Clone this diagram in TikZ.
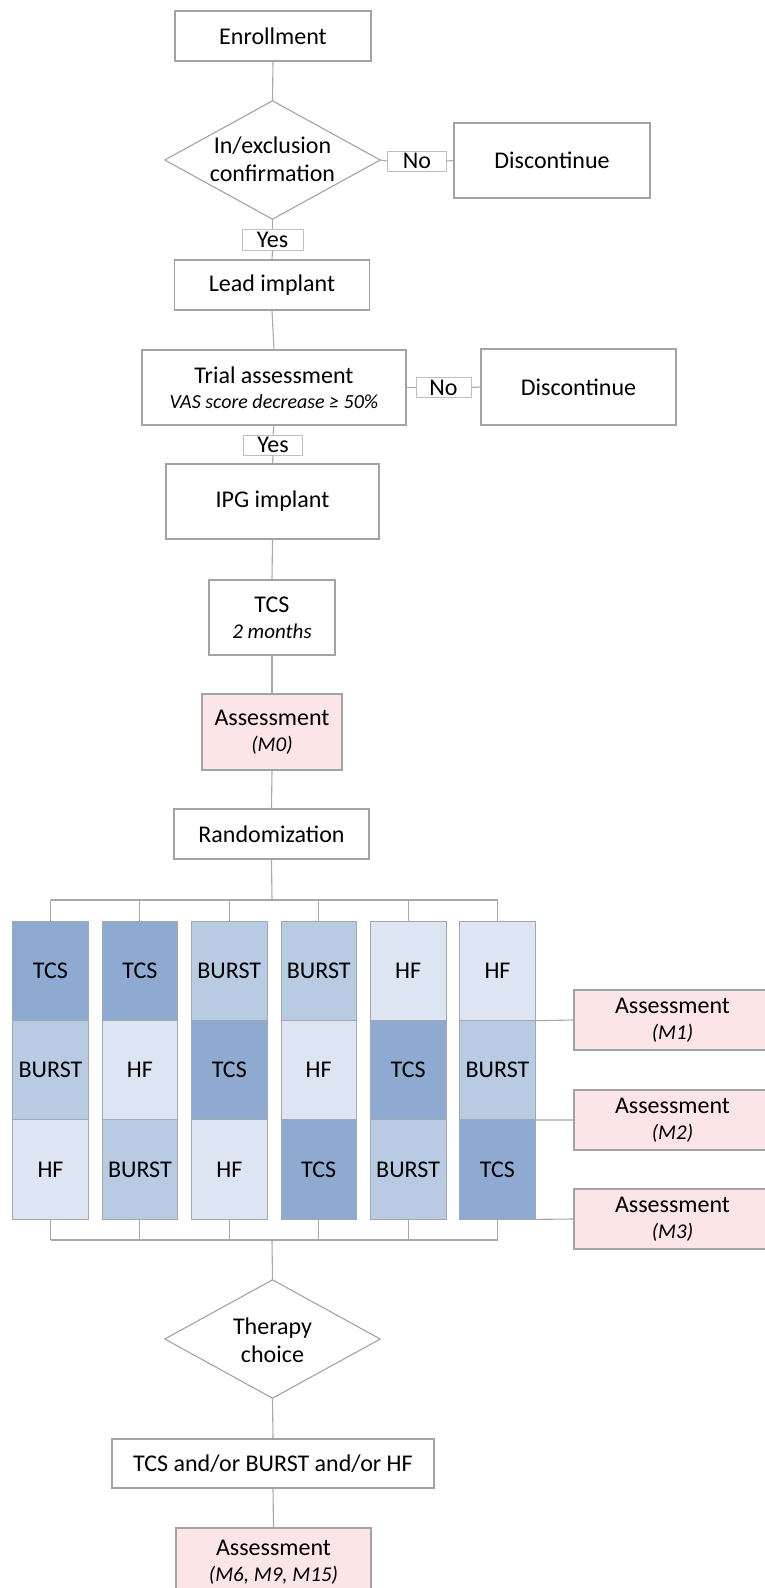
\documentclass[tikz,border=0pt]{standalone}
\usepackage{fontspec}
\setmainfont{Carlito}
\usetikzlibrary{calc}
\definecolor{boxgray}{HTML}{A3A3A3}
\definecolor{linegray}{HTML}{A8A8A8}
\definecolor{pinkfill}{HTML}{FBE5E6}
\definecolor{cTCS}{HTML}{8FAAD1}
\definecolor{cBURST}{HTML}{B8CBE3}
\definecolor{cHF}{HTML}{DCE5F1}
\definecolor{cellgray}{HTML}{A0A8B4}
\begin{document}
\begin{tikzpicture}[x=1pt,y=-1pt,
  box/.style={draw=boxgray,line width=1.1pt,fill=white,inner sep=0pt,align=center,
    font=\fontsize{24}{28}\selectfont},
  pinkbox/.style={box,fill=pinkfill},
  lbl/.style={draw=boxgray!70,line width=0.8pt,fill=white,inner sep=0pt,
    minimum width=59pt,minimum height=20pt,font=\fontsize{24}{28}\selectfont},
  hidden/.style={inner sep=0pt,align=center,font=\fontsize{24}{28}\selectfont},
  decision/.style={draw=boxgray,line width=1.1pt,fill=white},
  cell/.style={draw=cellgray,line width=0.7pt,inner sep=0pt,minimum width=75.5pt,
    minimum height=99.33pt,font=\fontsize{24}{28}\selectfont},
  conn/.style={draw=linegray,line width=1.1pt},
  sub/.style={font=\fontsize{20.5}{28}\itshape}
]
\useasboundingbox (0,0) rectangle (765,1588);
\clip (0,0) rectangle (765,1588);
\fill[white] (0,0) rectangle (765,1588);

% top chain
\node[box,minimum width=196pt,minimum height=50pt] (enroll) at (273,36) {Enrollment};
\node[hidden,minimum width=215pt,minimum height=118pt] (dec1) at (272.5,160) {};
\path[decision] (dec1.north) -- (dec1.east) -- (dec1.south) -- (dec1.west) -- cycle;
\node[hidden] (dec1t) at (272.5,159) {In/exclusion\\confirmation};
\node[lbl] (no1) at (417,161) {No};
\node[box,minimum width=196pt,minimum height=75pt] (disc1) at (552,160.5) {Discontinue};
\node[lbl,minimum width=61pt,minimum height=21pt] (yes1) at (272.5,239.5) {Yes};
\node[box,minimum width=195pt,minimum height=50pt] (lead) at (272,285) {Lead implant};
\node[box,minimum width=264pt,minimum height=75pt] (trial) at (274,387.5)
  {Trial assessment\\[-3pt]{\fontsize{20}{28}\itshape VAS score decrease ≥ 50\%}};
\node[lbl,minimum width=55pt] (no2) at (443.5,387.5) {No};
\node[box,minimum width=195pt,minimum height=76pt] (disc2) at (578.5,387) {Discontinue};
\node[lbl] (yes2) at (273,445) {Yes};
\node[box,minimum width=213pt,minimum height=75pt] (ipg) at (272.5,501.5) {IPG implant};
\node[box,minimum width=126pt,minimum height=75pt] (tcs) at (272,617.5)
  {TCS\\[-2pt]{\fontsize{21}{28}\itshape 2 months}};
\node[pinkbox,minimum width=140pt,minimum height=76pt] (m0) at (272,732)
  {Assessment\\[-2pt]{\fontsize{21}{28}\itshape (M0)}};
\node[box,minimum width=195pt,minimum height=50pt] (rand) at (271.5,834) {Randomization};

% connectors top
\draw[conn] (enroll.south) -- (dec1.north);
\draw[conn] (dec1.east) -- (no1.west);
\draw[conn] (no1.east) -- (disc1.west);
\draw[conn] (dec1.south) -- (yes1.north);
\draw[conn] (yes1.south) -- (lead.north);
\draw[conn] (lead.south) -- (trial.north);
\draw[conn] (trial.east) -- (no2.west);
\draw[conn] (no2.east) -- (disc2.west);
\draw[conn] (trial.south) -- (yes2.north);
\draw[conn] (yes2.south) -- (ipg.north);
\draw[conn] (ipg.south) -- (tcs.north);
\draw[conn] (tcs.south) -- (m0.north);
\draw[conn] (m0.south) -- (rand.north);

% columns
\foreach \i/\a/\b/\c in {1/TCS/BURST/HF,2/TCS/HF/BURST,3/BURST/TCS/HF,
                          4/BURST/HF/TCS,5/HF/TCS/BURST,6/HF/BURST/TCS}{
  \node[cell,fill=c\a] (c\i1) at ({50.5+89.4*(\i-1)},970.67) {\a};
  \node[cell,fill=c\b] (c\i2) at ({50.5+89.4*(\i-1)},1070) {\b};
  \node[cell,fill=c\c] (c\i3) at ({50.5+89.4*(\i-1)},1169.33) {\c};
}
\coordinate (tbus) at (272,900);
\coordinate (bbus) at (272,1240);
\draw[conn] (rand.south) -- (tbus);
\draw[conn] (c11.north |- tbus) -- (c61.north |- tbus);
\draw[conn] (c13.south |- bbus) -- (c63.south |- bbus);
\foreach \i in {1,...,6}{
  \draw[conn] (c\i1.north |- tbus) -- (c\i1.north);
  \draw[conn] (c\i3.south) -- (c\i3.south |- bbus);
}

% right assessments
\node[pinkbox,minimum width=197pt,minimum height=60pt] (m1) at (672.5,1020)
  {Assessment\\[-2pt]{\fontsize{21}{28}\itshape (M1)}};
\node[pinkbox,minimum width=197pt,minimum height=60pt] (m2) at (672.5,1120)
  {Assessment\\[-2pt]{\fontsize{21}{28}\itshape (M2)}};
\node[pinkbox,minimum width=197pt,minimum height=60pt] (m3) at (672.5,1219)
  {Assessment\\[-2pt]{\fontsize{21}{28}\itshape (M3)}};
\draw[conn] (c61.south east) -- (m1.west);
\draw[conn] (c62.south east) -- (m2.west);
\draw[conn] (c63.south east) -- (m3.west);

% bottom chain
\node[hidden,minimum width=215pt,minimum height=118pt] (ther) at (272.5,1339) {};
\path[decision] (ther.north) -- (ther.east) -- (ther.south) -- (ther.west) -- cycle;
\node[hidden] (thert) at (272.5,1340) {Therapy\\choice};
\node[box,minimum width=322pt,minimum height=49pt] (final) at (273,1463.5)
  {TCS and/or BURST and/or HF};
\node[pinkbox,minimum width=195pt,minimum height=68pt] (mlast) at (273.5,1562)
  {Assessment\\[-2pt]{\fontsize{21}{28}\itshape (M6, M9, M15)}};
\draw[conn] (bbus) -- (ther.north);
\draw[conn] (ther.south) -- (final.north);
\draw[conn] (final.south) -- (mlast.north);
\end{tikzpicture}
\end{document}
